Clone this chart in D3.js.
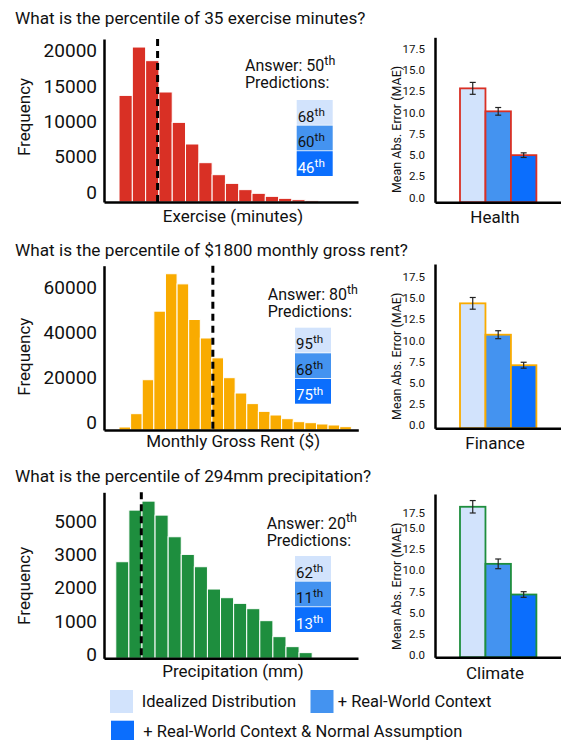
<!DOCTYPE html>
<html><head><meta charset="utf-8">
<script src="https://cdn.jsdelivr.net/npm/d3@7"></script>
<style>body{margin:0;background:#fff} text{font-family:Roboto, "Noto Sans", sans-serif; fill:#111;}</style>
</head><body><svg id="c" width="561" height="740"></svg>
<script>
// ---------------- DATA ----------------
const questions = [
  "What is the percentile of 35 exercise minutes?",
  "What is the percentile of $1800 monthly gross rent?",
  "What is the percentile of 294mm precipitation?"
];
const xAxisLabels = ["Exercise (minutes)", "Monthly Gross Rent ($)", "Precipitation (mm)"];
const domains = ["Health", "Finance", "Climate"];
const domainColors = ["#d93025", "#f9ab00", "#1e8e3e"];

// histogram frequencies (by bin)
const histExercise = [15100, 21950, 20020, 15580, 11280, 8215, 5570, 3870, 2640, 1750, 1230, 800, 520, 330, 190];
const histRent = [1330, 7240, 22300, 52700, 69300, 64800, 49000, 40800, 32000, 23200, 16400, 11700, 8270, 6650, 5020, 3690, 3250, 2660, 2220, 1480];
const histPrecip = [2900, 4450, 4720, 4300, 3650, 3120, 2750, 2080, 1820, 1650, 1490, 1130, 650, 350, 170];

// position of the queried value, in bin units
const markerBins = [2.9, 8.08, 1.95];

// histogram y tick values and tick labels
const freqTicks1 = [0, 5000, 10000, 15000, 20000];
const freqTickLabels1 = ["0", "5000", "10000", "15000", "20000"];
const freqTicks2 = [0, 20000, 40000, 60000];
const freqTickLabels2 = ["0", "20000", "40000", "60000"];
const freqTicks3 = [0, 1000, 2000, 3000, 4000];
const freqTickLabels3 = ["0", "1000", "2000", "3000", "5000"];

// answers and predictions (percentiles)
const answers = ["50", "80", "20"];
const predsHealth = ["68", "60", "46"];
const predsFinance = ["95", "68", "75"];
const predsClimate = ["62", "11", "13"];

// MAE bars
const conditions = ["Idealized Distribution", "+ Real-World Context", "+ Real-World Context & Normal Assumption"];
const condColors = ["#d2e3fc", "#4493f0", "#0b6efd"];
const maeHealth = [13.0, 10.3, 5.15];
const errHealth = [0.7, 0.45, 0.27];
const maeFinance = [14.55, 10.85, 7.25];
const errFinance = [0.69, 0.47, 0.35];
const maeClimate = [17.6, 10.9, 7.3];
const errClimate = [0.73, 0.57, 0.33];
const maeTicks = [0, 2.5, 5, 7.5, 10, 12.5, 15, 17.5];

// ---------------- LAYOUT ----------------
const panels = [
  {hist: histExercise, ticks: freqTicks1, tickLabels: freqTickLabels1, preds: predsHealth, mae: maeHealth, err: errHealth,
   titleY: 24, hx: [104, 358], hy: [202, 39], xDom: [-1.13, 17.97], yMax: 23088, labOff: -10, freqY: 117, xlabY: 222,
   ansX: 245, ansY: 71, boxX: 296.7, boxY: 100,
   by: [202.3, 37.3], yDom: [-0.39, 19.0], maeY: 129.5, catY: 222.7, nudge: {}},
  {hist: histRent, ticks: freqTicks2, tickLabels: freqTickLabels2, preds: predsFinance, mae: maeFinance, err: errFinance,
   titleY: 255.5, hx: [104, 358.3], hy: [430, 265.7], xDom: [-1.29, 20.6], yMax: 72860, labOff: -7.3, freqY: 356.7, xlabY: 447,
   ansX: 267.7, ansY: 300, boxX: 295, boxY: 327.7,
   by: [428.3, 264], yDom: [-0.19, 19.19], maeY: 356.3, catY: 448.7, nudge: {}},
  {hist: histPrecip, ticks: freqTicks3, tickLabels: freqTickLabels3, preds: predsClimate, mae: maeClimate, err: errClimate,
   titleY: 482, hx: [104, 358], hy: [658.3, 492.3], xDom: [-0.9, 18.5], yMax: 4985, labOff: -4, freqY: 585.8, xlabY: 677,
   ansX: 266.7, ansY: 528.5, boxX: 295, boxY: 556,
   by: [657.3, 494], yDom: [-0.07, 19.1], maeY: 586.3, catY: 679, nudge: {17.5: 7}}
];

const svg = d3.select("#c");
svg.append("rect").attr("width", 561).attr("height", 740).attr("fill", "#fff");

function sup(sel, base, supText) {
  sel.append("tspan").text(base);
  sel.append("tspan").text(supText).attr("font-size", "0.78em").attr("dy", "-0.5em");
}

panels.forEach((p, pi) => {
  const color = domainColors[pi];
  // title
  svg.append("text").attr("x", 15).attr("y", p.titleY).attr("font-size", 17.2).text(questions[pi]);

  // ---- histogram ----
  const x = d3.scaleLinear().domain(p.xDom).range(p.hx);
  const y = d3.scaleLinear().domain([0, p.yMax]).range(p.hy);
  const g = svg.append("g");
  g.selectAll("rect.bin").data(p.hist).join("rect")
    .attr("x", (d, i) => x(i)).attr("width", (d, i) => x(i + 1) - x(i))
    .attr("y", d => y(d)).attr("height", d => y(0) - y(d))
    .attr("fill", color).attr("stroke", "#fff").attr("stroke-width", 1);

  g.append("line").attr("x1", x(markerBins[pi])).attr("x2", x(markerBins[pi]))
    .attr("y1", p.hy[1]).attr("y2", p.hy[0])
    .attr("stroke", "#000").attr("stroke-width", 3).attr("stroke-dasharray", "7,5");

  const ya = g.append("g").attr("transform", `translate(${p.hx[0]},0)`)
    .call(d3.axisLeft(y).tickValues(p.ticks).tickFormat((d, i) => p.tickLabels[i]).tickSize(0).tickSizeOuter(0).tickPadding(7));
  ya.select(".domain").attr("stroke", "#000").attr("stroke-width", 2.5);
  ya.selectAll("text").attr("font-size", 19).attr("font-family", "Roboto").attr("fill", "#111").attr("y", p.labOff);

  const xa = g.append("g").attr("transform", `translate(0,${p.hy[0]})`)
    .call(d3.axisBottom(x).tickValues([]).tickSizeOuter(0));
  xa.select(".domain").attr("stroke", "#000").attr("stroke-width", 2.5);

  svg.append("text").attr("transform", `translate(29.5,${p.freqY}) rotate(-90)`)
    .attr("text-anchor", "middle").attr("font-size", 17).text("Frequency");
  svg.append("text").attr("x", (p.hx[0] + p.hx[1]) / 2 + 2).attr("y", p.xlabY)
    .attr("text-anchor", "middle").attr("font-size", 17).text(xAxisLabels[pi]);

  // answer + predictions
  sup(svg.append("text").attr("x", p.ansX).attr("y", p.ansY).attr("font-size", 16), "Answer: " + answers[pi], "th");
  svg.append("text").attr("x", p.ansX).attr("y", p.ansY + 17.3).attr("font-size", 16).text("Predictions:");
  p.preds.forEach((v, k) => {
    const by0 = p.boxY + k * 25.6;
    svg.append("rect").attr("x", p.boxX).attr("y", by0).attr("width", 36).attr("height", 24.8).attr("fill", condColors[k]);
    const t = svg.append("text").attr("x", p.boxX + 1).attr("y", by0 + 21.5).attr("font-size", 15)
      .style("fill", k === 2 ? "#fff" : "#111");
    sup(t, v, "th");
  });

  // ---- MAE bar chart ----
  const bx = d3.scaleBand().domain(d3.range(3)).range([460, 536.4]).padding(0);
  const by = d3.scaleLinear().domain(p.yDom).range(p.by);
  const bg = svg.append("g");
  bg.selectAll("rect.bar").data(p.mae).join("rect")
    .attr("x", (d, i) => bx(i)).attr("width", bx.bandwidth())
    .attr("y", d => by(d)).attr("height", d => by(p.yDom[0]) - by(d))
    .attr("fill", (d, i) => condColors[i]).attr("stroke", color).attr("stroke-width", 1.8);
  p.mae.forEach((v, i) => {
    const cx = bx(i) + bx.bandwidth() / 2, e = p.err[i];
    bg.append("line").attr("x1", cx).attr("x2", cx).attr("y1", by(v - e)).attr("y2", by(v + e)).attr("stroke", "#222").attr("stroke-width", 1.2);
    [v - e, v + e].forEach(w => bg.append("line").attr("x1", cx - 3).attr("x2", cx + 3).attr("y1", by(w)).attr("y2", by(w)).attr("stroke", "#222").attr("stroke-width", 1.2));
  });
  const bya = bg.append("g").attr("transform", "translate(435,0)")
    .call(d3.axisLeft(by).tickValues(maeTicks).tickFormat(d3.format(".1f")).tickSize(0).tickSizeOuter(0).tickPadding(10));
  bya.select(".domain").attr("stroke", "#000").attr("stroke-width", 2.5);
  bya.selectAll("text").attr("font-size", 11.5).attr("font-family", "Roboto").attr("fill", "#111")
    .attr("y", d => (p.nudge[d] || 0) - 1.5);
  const bxa = bg.append("g").attr("transform", `translate(0,${p.by[0]})`)
    .call(d3.axisBottom(d3.scaleLinear().range([435, 561])).tickValues([]).tickSizeOuter(0));
  bxa.select(".domain").attr("stroke", "#000").attr("stroke-width", 2.5);
  svg.append("text").attr("transform", `translate(400.5,${p.maeY}) rotate(-90)`)
    .attr("text-anchor", "middle").attr("font-size", 12.5).text("Mean Abs. Error (MAE)");
  svg.append("text").attr("x", 495).attr("y", p.catY).attr("text-anchor", "middle").attr("font-size", 17).text(domains[pi]);
});

// ---- legend ----
const legendPos = [{x: 110, y: 690, tx: 141.7, ty: 707.3}, {x: 310.5, y: 690, tx: 337.7, ty: 707.3}, {x: 111, y: 720.7, tx: 143.3, ty: 737}];
conditions.forEach((c, i) => {
  const lp = legendPos[i];
  svg.append("rect").attr("x", lp.x).attr("y", lp.y).attr("width", 23).attr("height", 23).attr("fill", condColors[i]);
  svg.append("text").attr("x", lp.tx).attr("y", lp.ty).attr("font-size", 16.5).text(c);
});
</script></body></html>
